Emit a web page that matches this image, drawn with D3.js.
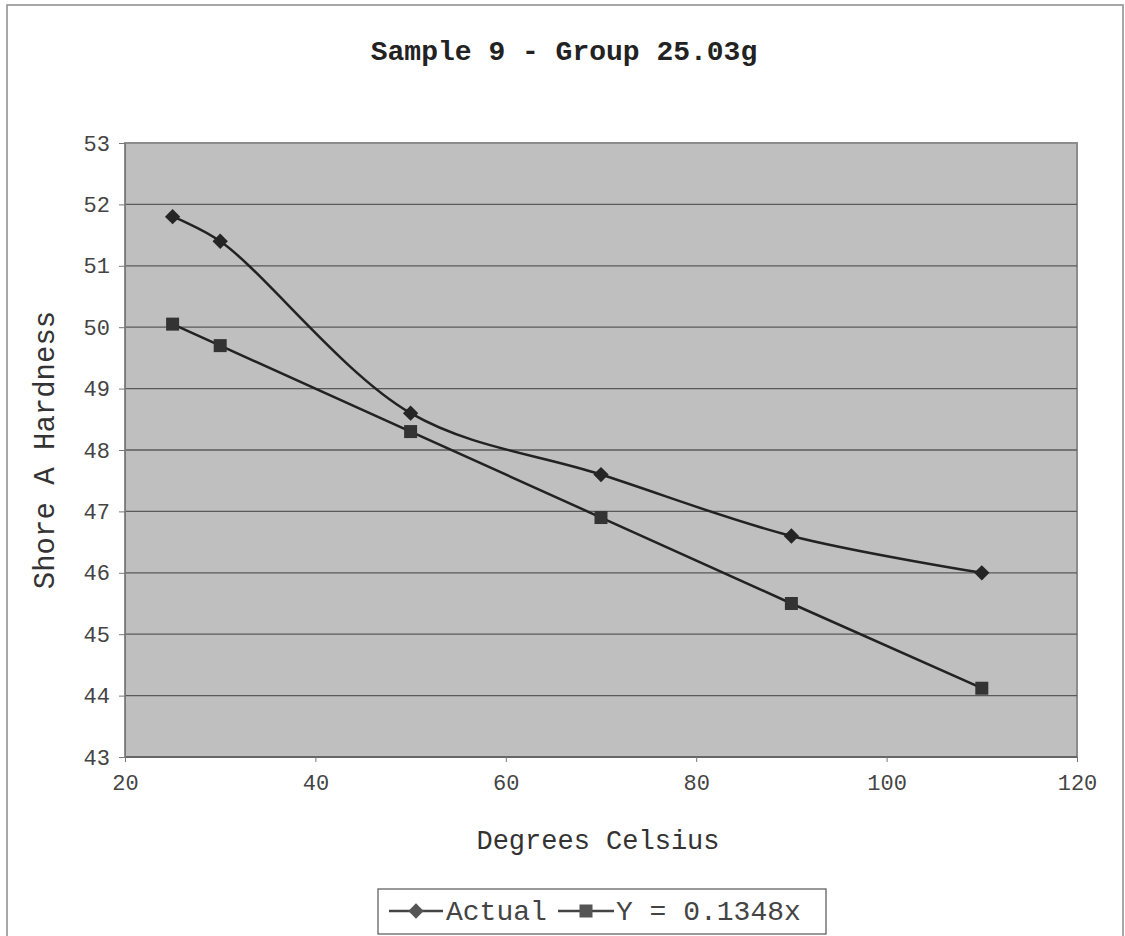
<!DOCTYPE html>
<html><head><meta charset="utf-8">
<script src="https://cdn.jsdelivr.net/npm/d3@7"></script>
<style>body{margin:0;background:#fff}svg{display:block}</style>
</head><body>
<script>
const temps = [25, 30, 50, 70, 90, 110];
const actual = [51.8, 51.4, 48.6, 47.6, 46.6, 46.0];
const model = [50.05, 49.7, 48.3, 46.9, 45.5, 44.12];
const xTicks = [20, 40, 60, 80, 100, 120];
const yTicks = [43, 44, 45, 46, 47, 48, 49, 50, 51, 52, 53];
const seriesNames = ["Actual", "Y = 0.1348x"];
const title = "Sample 9 - Group 25.03g";

const W = 1125, H = 936;
const svg = d3.select("body").append("svg").attr("width", W).attr("height", H);
const font = "'Liberation Mono','Courier New',monospace";

svg.append("rect").attr("x", 7).attr("y", 5).attr("width", 1116).attr("height", 940)
  .attr("fill", "#fff").attr("stroke", "#8a8a8a").attr("stroke-width", 1.5);

const L = 125, R = 1077, T = 143, B = 757;
const x = d3.scaleLinear().domain([20, 120]).range([L, R]);
const y = d3.scaleLinear().domain([43, 53]).range([B, T]);

svg.append("rect").attr("x", L).attr("y", T).attr("width", R - L).attr("height", B - T)
  .attr("fill", "#bfbfbf").attr("stroke", "#8c8c8c").attr("stroke-width", 2);

svg.append("g").selectAll("line").data(yTicks.slice(1, -1)).join("line")
  .attr("x1", L).attr("x2", R).attr("y1", d => y(d)).attr("y2", d => y(d))
  .attr("stroke", "#5a5a5a").attr("stroke-width", 1.3);

svg.append("line").attr("x1", L).attr("x2", R).attr("y1", B).attr("y2", B)
  .attr("stroke", "#666").attr("stroke-width", 2);

const yAxis = svg.append("g").attr("transform", `translate(${L},0)`)
  .call(d3.axisLeft(y).tickValues(yTicks).tickSize(6).tickPadding(9).tickFormat(d3.format("d")));
yAxis.select(".domain").attr("stroke", "#777");
yAxis.selectAll("line").attr("stroke", "#777");
yAxis.selectAll("text").attr("font-family", font).attr("font-size", 22).attr("fill", "#444");

const xAxis = svg.append("g").attr("transform", `translate(0,${B})`)
  .call(d3.axisBottom(x).tickValues(xTicks).tickSize(5).tickPadding(12).tickFormat(d3.format("d")));
xAxis.select(".domain").remove();
xAxis.selectAll("line").attr("stroke", "#777");
xAxis.selectAll("text").attr("font-family", font).attr("font-size", 22).attr("fill", "#444");

svg.append("text").attr("x", 564).attr("y", 60).attr("text-anchor", "middle")
  .attr("font-family", font).attr("font-weight", "bold").attr("font-size", 28).attr("fill", "#222")
  .text(title);
svg.append("text").attr("x", 598).attr("y", 849).attr("text-anchor", "middle")
  .attr("font-family", font).attr("font-size", 27).attr("fill", "#333").text("Degrees Celsius");
svg.append("text").attr("transform", `translate(54,450) rotate(-90)`).attr("text-anchor", "middle")
  .attr("font-family", font).attr("font-size", 29).attr("fill", "#333").text("Shore A Hardness");

const pts1 = temps.map((t, i) => [t, actual[i]]);
const pts2 = temps.map((t, i) => [t, model[i]]);

svg.append("path").datum(pts1)
  .attr("d", d3.line().x(d => x(d[0])).y(d => y(d[1])).curve(d3.curveCatmullRom.alpha(0.5)))
  .attr("fill", "none").attr("stroke", "#222").attr("stroke-width", 2.5);
svg.append("path").datum(pts2)
  .attr("d", d3.line().x(d => x(d[0])).y(d => y(d[1])))
  .attr("fill", "none").attr("stroke", "#222").attr("stroke-width", 2.5);

const diamond = d3.symbol().type(d3.symbolDiamond2).size(150);
svg.append("g").selectAll("path").data(pts1).join("path")
  .attr("transform", d => `translate(${x(d[0])},${y(d[1])})`)
  .attr("d", diamond).attr("fill", "#252525");
svg.append("g").selectAll("rect").data(pts2).join("rect")
  .attr("x", d => x(d[0]) - 6.5).attr("y", d => y(d[1]) - 6.5)
  .attr("width", 13).attr("height", 13).attr("fill", "#333");

// legend
const lg = svg.append("g");
lg.append("rect").attr("x", 378).attr("y", 889).attr("width", 448).attr("height", 45)
  .attr("fill", "#fff").attr("stroke", "#555").attr("stroke-width", 1.2);
const legendItems = [
  {name: seriesNames[0], x0: 389, x1: 443, type: "d", tx: 446},
  {name: seriesNames[1], x0: 558, x1: 614, type: "s", tx: 616}
];
const ly = 911;
legendItems.forEach(it => {
  lg.append("line").attr("x1", it.x0).attr("x2", it.x1).attr("y1", ly).attr("y2", ly)
    .attr("stroke", "#444").attr("stroke-width", 2.5);
  const cx = (it.x0 + it.x1) / 2;
  if (it.type === "d") {
    lg.append("path").attr("transform", `translate(${cx},${ly})`).attr("d", diamond).attr("fill", "#555");
  } else {
    lg.append("rect").attr("x", cx - 6.5).attr("y", ly - 6.5).attr("width", 13).attr("height", 13).attr("fill", "#555");
  }
  lg.append("text").attr("x", it.tx).attr("y", ly + 9).attr("font-family", font).attr("font-size", 28)
    .attr("fill", "#444").text(it.name);
});
</script>
</body></html>
